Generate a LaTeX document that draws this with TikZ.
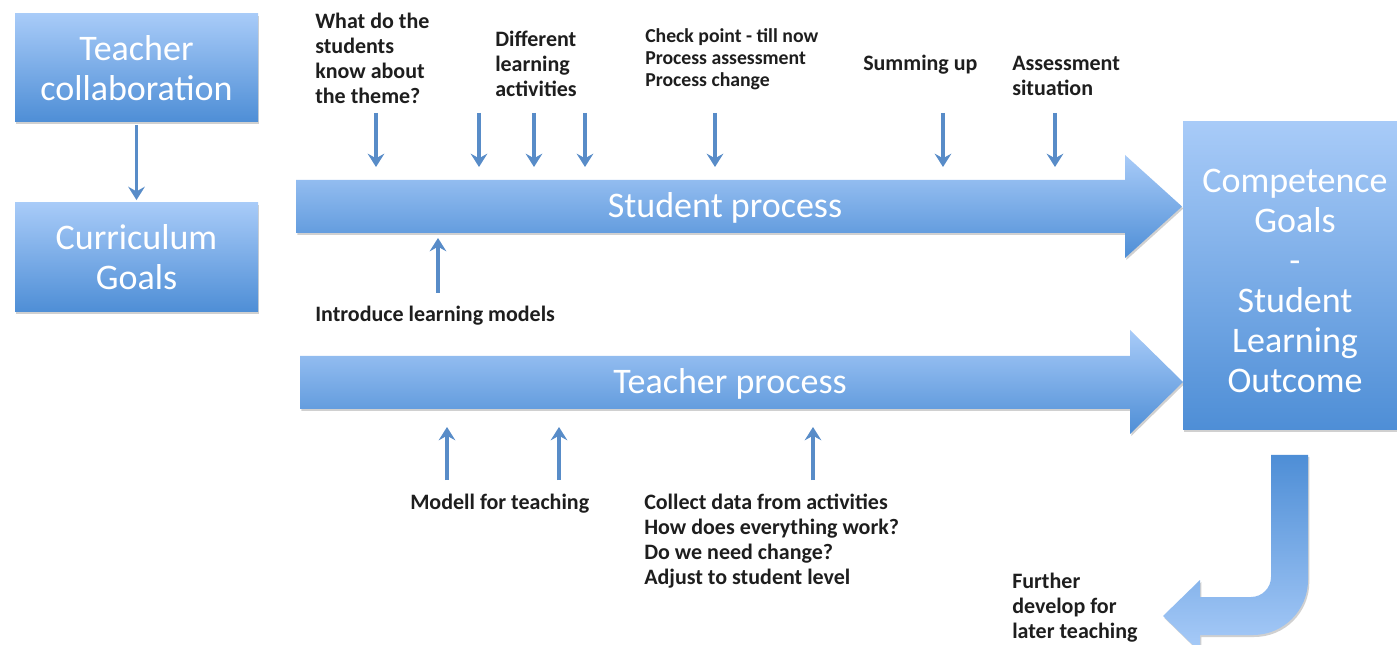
\documentclass[tikz,border=0pt]{standalone}
\usepackage{fontspec}
\setmainfont{Carlito}
\usetikzlibrary{arrows.meta,shadows}
\definecolor{boxtop}{RGB}{168,203,248}
\definecolor{boxbot}{RGB}{78,142,214}
\definecolor{arrblue}{RGB}{88,140,200}
\definecolor{labtxt}{RGB}{30,30,30}
\tikzset{
  shadowed/.style={drop shadow={shadow xshift=1pt,shadow yshift=-1.5pt,opacity=0.3,fill=black!60}},
  bluebox/.style={shadowed,top color=boxtop,bottom color=boxbot,inner sep=0pt,align=center,
    text=white,font=\fontsize{27}{30}\selectfont},
  bigshape/.style={shadowed,top color=boxtop,bottom color=boxbot},
  jshape/.style={shadowed,top color=boxbot,bottom color=boxtop},
  bigtext/.style={text=white,font=\fontsize{27}{30}\selectfont,inner sep=0pt},
  lab/.style={anchor=north west,inner sep=0pt,align=left,text=labtxt,
    font=\bfseries\fontsize{16.5}{18.6}\selectfont},
  labsmall/.style={lab,font=\bfseries\fontsize{14.8}{16.5}\selectfont},
  smallarr/.style={draw=arrblue,line width=2.8pt,-{Stealth[length=10pt,width=12.5pt,inset=3.5pt]}}
}
\begin{document}
\begin{tikzpicture}[x=0.75pt,y=-0.75pt]
\fill[white] (0,0) rectangle (1397,645);
\useasboundingbox (0,0) rectangle (1397,645);

% left boxes
\node[bluebox,minimum width=182.25pt,minimum height=81pt] (tc) at (136.5,68) {Teacher\\collaboration};
\node[bluebox,minimum width=182.25pt,minimum height=81.75pt] (cg) at (136.5,257.5) {Curriculum\\Goals};
\draw[smallarr,shorten <=2pt,shorten >=2pt] (tc) -- (cg);

% big process arrows
\path[bigshape] (296,180) -- (1125,180) -- (1125,155) -- (1182,206.5) -- (1125,258) -- (1125,233) -- (296,233) -- cycle;
\node[bigtext] (sp) at (725,208) {Student process};
\path[bigshape] (300,356) -- (1130,356) -- (1130,330) -- (1183,382) -- (1130,434) -- (1130,409) -- (300,409) -- cycle;
\node[bigtext] (tp) at (730,384) {Teacher process};

% competence box
\node[bluebox,minimum width=160.5pt,minimum height=231pt] (cgo) at (1290,276) {};
\node[bigtext,align=center] (cgt) at (1295,281) {Competence\\Goals\\-\\Student\\Learning\\Outcome};

% J arrow
\path[jshape] (1271,455) -- (1308,455) -- (1308,580)
  .. controls (1308,610.4) and (1283.4,635) .. (1253,635)
  -- (1200,635) -- (1200,652) -- (1163,616) -- (1200,580) -- (1200,597) -- (1251,597)
  .. controls (1262,597) and (1271,588) .. (1271,577) -- cycle;

% labels above
\node[lab] (l1) at (315,13) {What do the\\students\\know about\\the theme?};
\node[lab] (l2) at (495,31) {Different\\learning\\activities};
\node[labsmall] (l3) at (645,28) {Check point - till now\\Process assessment\\Process change};
\node[lab] (l4) at (863,55) {Summing up};
\node[lab] (l5) at (1012,56) {Assessment\\situation};
\node[lab] (l6) at (315,306) {Introduce learning models};
\node[lab] (l7) at (410,494) {Modell for teaching};
\node[lab] (l8) at (644,494) {Collect data from activities\\How does everything work?\\Do we need change?\\Adjust to student level};
\node[lab] (l9) at (1012,573) {Further\\develop for\\later teaching};

% small arrows down onto student process
\foreach \n/\xx in {a/376,b/479,c/534,d/585,e/715,f/943,g/1055}{
  \coordinate (s\n) at (\xx,113);
  \coordinate (e\n) at (\xx,167);
  \draw[smallarr] (s\n) -- (e\n);
}
% up arrow onto student process
\coordinate (si) at (438,293);
\coordinate (ei) at (438,238);
\draw[smallarr] (si) -- (ei);
% up arrows onto teacher process
\foreach \n/\xx in {p/447,q/559,r/813}{
  \coordinate (s\n) at (\xx,480);
  \coordinate (e\n) at (\xx,427);
  \draw[smallarr] (s\n) -- (e\n);
}
\end{tikzpicture}
\end{document}
